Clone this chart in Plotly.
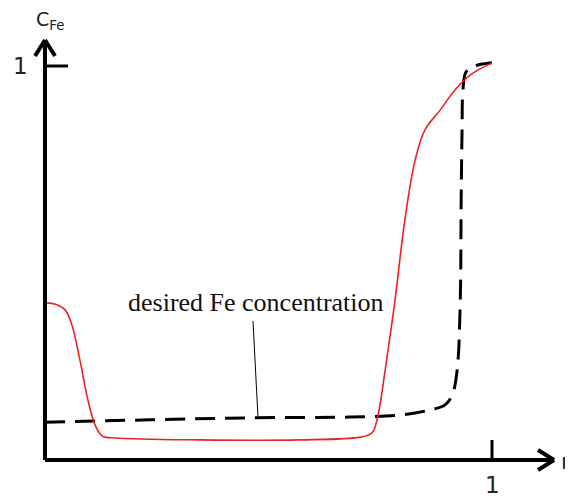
import plotly.graph_objects as go

# ---- data (r normalised, C_Fe normalised) ----
red_r = [0, 0.022, 0.045, 0.060, 0.078, 0.096, 0.112, 0.128, 0.157, 0.347, 0.570,
         0.705, 0.732, 0.745, 0.761, 0.783, 0.805, 0.828, 0.850, 0.884, 0.917, 0.951, 1.0]
red_c = [0.398, 0.396, 0.381, 0.343, 0.254, 0.152, 0.089, 0.061, 0.056, 0.051, 0.051,
         0.058, 0.069, 0.114, 0.228, 0.406, 0.609, 0.761, 0.838, 0.888, 0.939, 0.977, 1.008]

desired_r = [0, 0.235, 0.459, 0.682, 0.794, 0.861, 0.895, 0.911, 0.922, 0.929, 0.931,
             0.933, 0.935, 0.942, 0.962, 1.0]
desired_c = [0.096, 0.102, 0.107, 0.109, 0.114, 0.127, 0.140, 0.165, 0.228, 0.406, 0.660,
             0.838, 0.939, 0.985, 1.0, 1.008]

tick_labels = ["1", "1"]
annotation_label = "desired Fe concentration"
y_label = "C<sub>Fe</sub>"
x_label = "r"

W, H = 573, 499
OFF = 8            # default page body margin
X0, X1 = 45, 492   # screen pixel of r=0, r=1
Y0, Y1 = 460, 66   # screen pixel of c=0, c=1


def dx(px):
    return (px - X0) / (X1 - X0)


def dy(py):
    return (Y0 - py) / (Y0 - Y1)


fig = go.Figure()
fig.add_trace(go.Scatter(x=desired_r, y=desired_c, mode="lines", line_shape="spline",
                         line=dict(color="black", width=3, dash="20px,10px"),
                         hoverinfo="skip", showlegend=False))
fig.add_trace(go.Scatter(x=red_r, y=red_c, mode="lines", line_shape="spline",
                         line=dict(color="#ee2222", width=1.6),
                         hoverinfo="skip", showlegend=False))

shapes = []
ax = dict(type="line", xref="x", yref="y", line=dict(color="black", width=4))
# y axis with arrow
shapes.append(dict(ax, x0=dx(45), y0=dy(460), x1=dx(45), y1=dy(40)))
shapes.append(dict(ax, x0=dx(35), y0=dy(56), x1=dx(45), y1=dy(40)))
shapes.append(dict(ax, x0=dx(55), y0=dy(56), x1=dx(45), y1=dy(40)))
# x axis with arrow
shapes.append(dict(ax, x0=dx(45), y0=dy(460), x1=dx(554), y1=dy(460)))
shapes.append(dict(ax, x0=dx(538), y0=dy(450), x1=dx(554), y1=dy(460)))
shapes.append(dict(ax, x0=dx(538), y0=dy(470), x1=dx(554), y1=dy(460)))
# ticks
shapes.append(dict(type="line", xref="x", yref="y", line=dict(color="black", width=3),
                   x0=0, y0=1, x1=dx(68), y1=1))
shapes.append(dict(type="line", xref="x", yref="y", line=dict(color="black", width=3),
                   x0=1, y0=0, x1=1, y1=dy(440)))
# annotation leader line
shapes.append(dict(type="line", xref="x", yref="y", line=dict(color="black", width=1),
                   x0=dx(253), y0=dy(321), x1=dx(258), y1=dy(418)))

annotations = [
    dict(x=dx(20), y=1, text=tick_labels[1], showarrow=False, xanchor="center", yanchor="middle",
         font=dict(family="DejaVu Sans", size=23, color="#222")),
    dict(x=1, y=dy(485), text=tick_labels[0], showarrow=False, xanchor="center", yanchor="middle",
         font=dict(family="DejaVu Sans", size=23, color="#222")),
    dict(x=dx(50), y=dy(20), text=y_label, showarrow=False, xanchor="center", yanchor="middle",
         font=dict(family="DejaVu Sans", size=19, color="#222")),
    dict(x=dx(573), y=dy(461), text=x_label, showarrow=False, xanchor="right", yanchor="middle",
         font=dict(family="DejaVu Sans", size=22, color="#222")),
    dict(x=dx(256), y=dy(302), text=annotation_label, showarrow=False, xanchor="center",
         yanchor="middle", font=dict(family="Liberation Serif", size=26, color="#111")),
]

fig.update_layout(
    width=W - OFF, height=H - OFF,
    margin=dict(l=0, r=0, t=0, b=0),
    paper_bgcolor="white", plot_bgcolor="white",
    xaxis=dict(range=[dx(OFF), dx(W)], visible=False, fixedrange=True),
    yaxis=dict(range=[dy(H), dy(OFF)], visible=False, fixedrange=True),
    shapes=shapes, annotations=annotations, showlegend=False,
)

fig.write_html("out.html", config={"displayModeBar": False})
